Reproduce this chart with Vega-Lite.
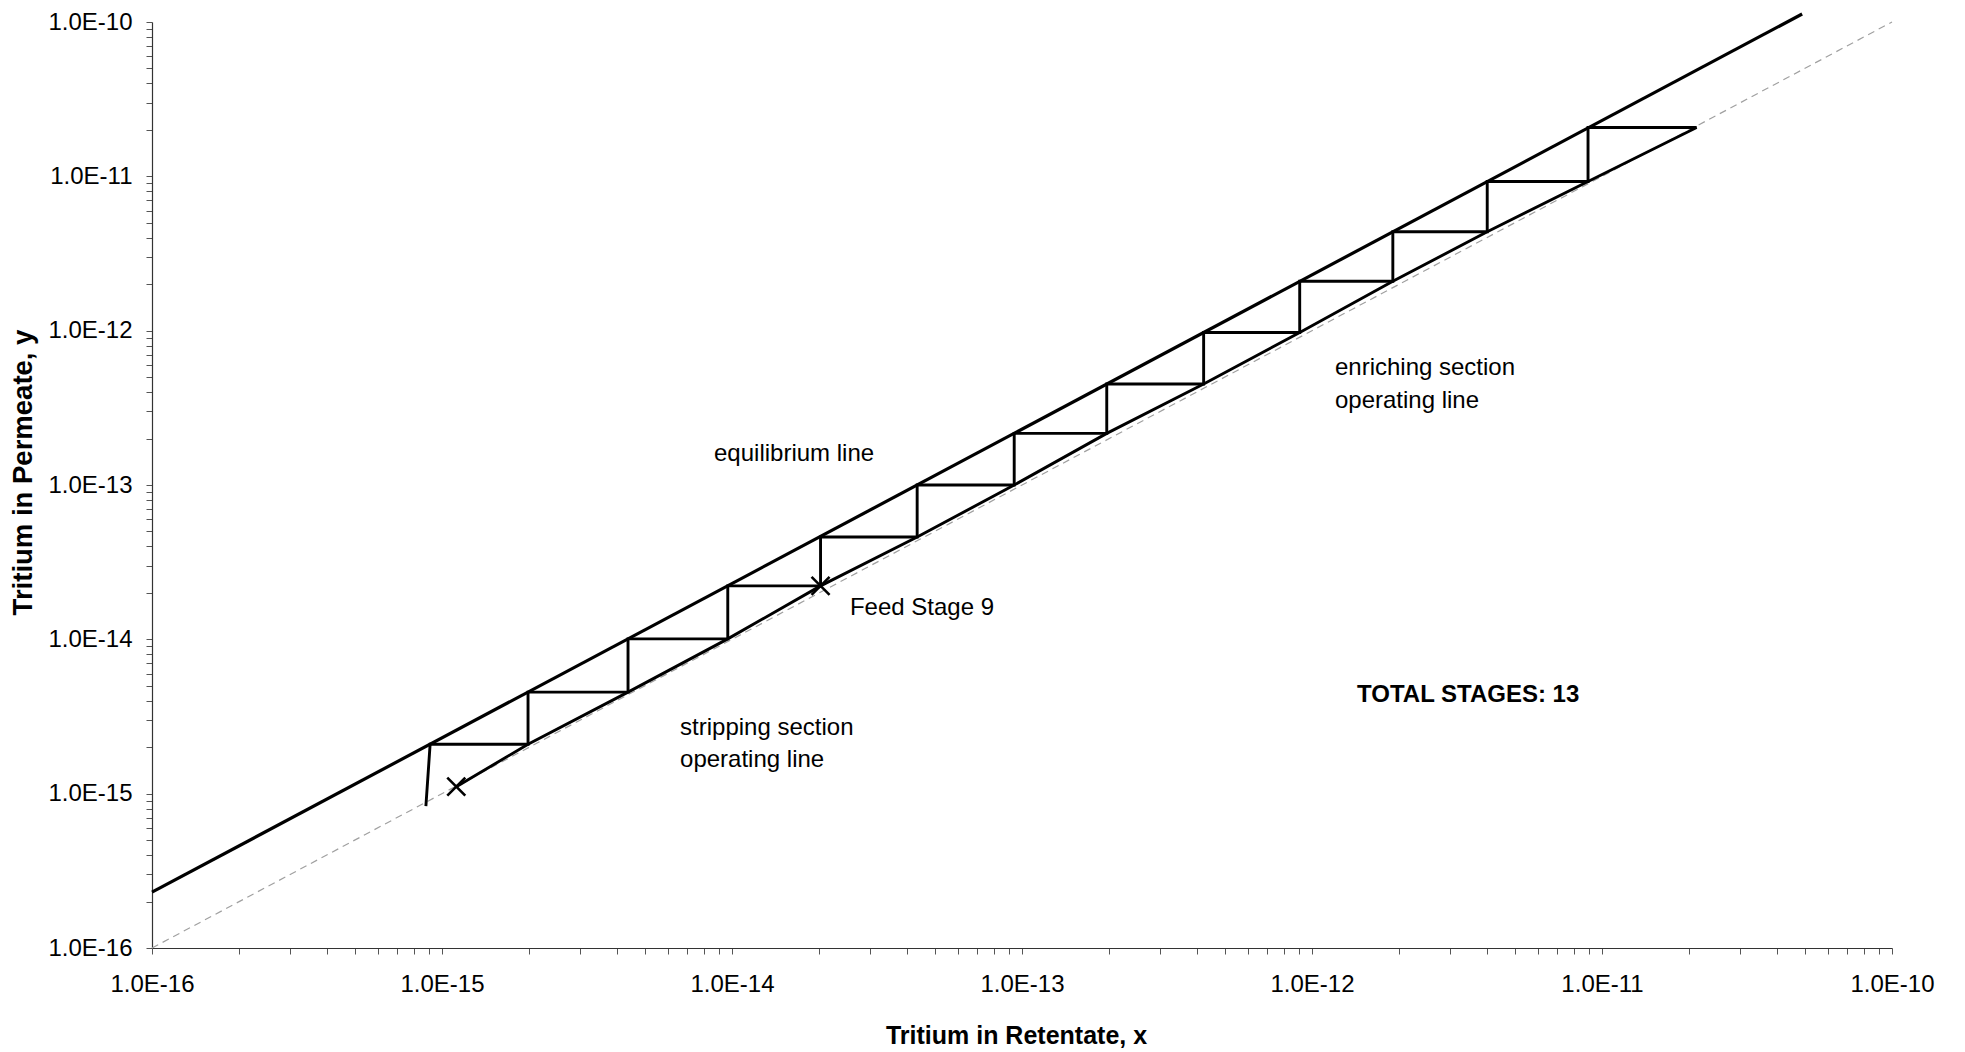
{
  "$schema": "https://vega.github.io/schema/vega-lite/v6.json",
  "autosize": {"type": "none"},
  "width": 1740,
  "height": 926,
  "padding": {"left": 152, "top": 22, "right": 73, "bottom": 104},
  "background": "white",
  "config": {
    "view": {"stroke": null},
    "font": "Liberation Sans",
    "axis": {
      "grid": false,
      "domainColor": "#333",
      "domainWidth": 1.2,
      "tickColor": "#555",
      "tickWidth": 1,
      "tickSize": 6,
      "labelFont": "Liberation Sans",
      "labelFontSize": 24,
      "labelColor": "black",
      "labelFlush": false,
      "labelOverlap": false,
      "titleFont": "Liberation Sans",
      "titleFontWeight": "bold",
      "titleColor": "black"
    }
  },
  "encoding": {
    "x": {
      "field": "x",
      "type": "quantitative",
      "scale": {"type": "log", "domain": [1e-16, 1e-10], "nice": false},
      "axis": {
        "title": "Tritium in Retentate, x",
        "titleFontSize": 25,
        "titlePadding": 27,
        "titleX": 864,
        "labelPadding": 18,
        "labelExpr": "abs(log(datum.value)/LN10 - round(log(datum.value)/LN10)) < 0.01 ? '1.0E-' + round(-log(datum.value)/LN10) : ''"
      }
    },
    "y": {
      "field": "y",
      "type": "quantitative",
      "scale": {"type": "log", "domain": [1e-16, 1e-10], "nice": false},
      "axis": {
        "title": "Tritium in Permeate, y",
        "titleFontSize": 27.5,
        "titlePadding": 10,
        "titleY": 450,
        "labelPadding": 14,
        "labelExpr": "abs(log(datum.value)/LN10 - round(log(datum.value)/LN10)) < 0.01 ? '1.0E-' + round(-log(datum.value)/LN10) : ''"
      }
    }
  },
  "layer": [
    {
      "data": {"values": [{"x": 1e-16, "y": 1e-16}, {"x": 1e-10, "y": 1e-10}]},
      "mark": {"type": "line", "color": "#a0a0a0", "strokeWidth": 1.2, "strokeDash": [7, 5]}
    },
    {
      "data": {"values": [{"x": 1e-16, "y": 2.3e-16}, {"x": 4.9e-11, "y": 1.127e-10}]},
      "mark": {"type": "line", "color": "black", "strokeWidth": 3.2}
    },
    {
      "data": {"values": [
        {"i": 0, "x": 1.12e-15, "y": 1.11e-15},
        {"i": 1, "x": 1.98e-15, "y": 2.09e-15},
        {"i": 2, "x": 4.38e-15, "y": 4.55e-15},
        {"i": 3, "x": 9.67e-15, "y": 1.007e-14},
        {"i": 4, "x": 2.02e-14, "y": 2.22e-14},
        {"i": 5, "x": 4.35e-14, "y": 4.6e-14},
        {"i": 6, "x": 9.4e-14, "y": 1.0e-13},
        {"i": 7, "x": 1.96e-13, "y": 2.16e-13},
        {"i": 8, "x": 4.23e-13, "y": 4.51e-13},
        {"i": 9, "x": 9.07e-13, "y": 9.73e-13},
        {"i": 10, "x": 1.9e-12, "y": 2.09e-12},
        {"i": 11, "x": 4.02e-12, "y": 4.37e-12},
        {"i": 12, "x": 8.95e-12, "y": 9.25e-12},
        {"i": 13, "x": 2.12e-11, "y": 2.07e-11}
      ]},
      "mark": {"type": "line", "color": "black", "strokeWidth": 2.9},
      "encoding": {"order": {"field": "i", "type": "quantitative"}}
    },
    {
      "data": {"values": [
        {"i": 0, "x": 8.8e-16, "y": 8.3e-16},
        {"i": 1, "x": 9.1e-16, "y": 2.09e-15},
        {"i": 2, "x": 1.98e-15, "y": 2.09e-15},
        {"i": 3, "x": 1.98e-15, "y": 4.55e-15},
        {"i": 4, "x": 4.38e-15, "y": 4.55e-15},
        {"i": 5, "x": 4.38e-15, "y": 1.007e-14},
        {"i": 6, "x": 9.67e-15, "y": 1.007e-14},
        {"i": 7, "x": 9.67e-15, "y": 2.22e-14},
        {"i": 8, "x": 2.02e-14, "y": 2.22e-14},
        {"i": 9, "x": 2.02e-14, "y": 4.6e-14},
        {"i": 10, "x": 4.35e-14, "y": 4.6e-14},
        {"i": 11, "x": 4.35e-14, "y": 1.0e-13},
        {"i": 12, "x": 9.4e-14, "y": 1.0e-13},
        {"i": 13, "x": 9.4e-14, "y": 2.16e-13},
        {"i": 14, "x": 1.96e-13, "y": 2.16e-13},
        {"i": 15, "x": 1.96e-13, "y": 4.51e-13},
        {"i": 16, "x": 4.23e-13, "y": 4.51e-13},
        {"i": 17, "x": 4.23e-13, "y": 9.73e-13},
        {"i": 18, "x": 9.07e-13, "y": 9.73e-13},
        {"i": 19, "x": 9.07e-13, "y": 2.09e-12},
        {"i": 20, "x": 1.9e-12, "y": 2.09e-12},
        {"i": 21, "x": 1.9e-12, "y": 4.37e-12},
        {"i": 22, "x": 4.02e-12, "y": 4.37e-12},
        {"i": 23, "x": 4.02e-12, "y": 9.25e-12},
        {"i": 24, "x": 8.95e-12, "y": 9.25e-12},
        {"i": 25, "x": 8.95e-12, "y": 2.07e-11},
        {"i": 26, "x": 2.12e-11, "y": 2.07e-11}
      ]},
      "mark": {"type": "line", "color": "black", "strokeWidth": 2.9},
      "encoding": {"order": {"field": "i", "type": "quantitative"}}
    },
    {
      "data": {"values": [
        {"x": 1.12e-15, "y": 1.11e-15},
        {"x": 2.02e-14, "y": 2.22e-14}
      ]},
      "mark": {"type": "point", "shape": "M-1,-1L1,1M-1,1L1,-1", "filled": false, "stroke": "black", "strokeWidth": 2.6, "size": 324, "opacity": 1}
    },
    {
      "data": {"values": [
        {"x": 8.67e-15, "y": 1.59e-13, "label": "equilibrium line"},
        {"x": 2.55e-14, "y": 1.6e-14, "label": "Feed Stage 9"},
        {"x": 6.62e-15, "y": 2.66e-15, "label": "stripping section"},
        {"x": 6.62e-15, "y": 1.65e-15, "label": "operating line"},
        {"x": 1.2e-12, "y": 5.73e-13, "label": "enriching section"},
        {"x": 1.2e-12, "y": 3.5e-13, "label": "operating line"}
      ]},
      "mark": {"type": "text", "align": "left", "baseline": "middle", "fontSize": 24, "font": "Liberation Sans", "color": "black"},
      "encoding": {"text": {"field": "label"}}
    },
    {
      "data": {"values": [
        {"x": 1.43e-12, "y": 4.36e-15, "label": "TOTAL STAGES: 13"}
      ]},
      "mark": {"type": "text", "align": "left", "baseline": "middle", "fontSize": 24, "fontWeight": "bold", "font": "Liberation Sans", "color": "black"},
      "encoding": {"text": {"field": "label"}}
    }
  ]
}
